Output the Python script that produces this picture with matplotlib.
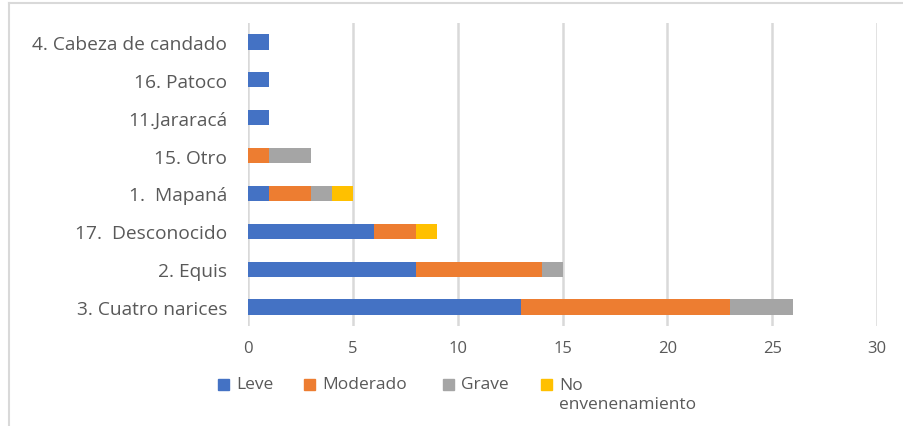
import numpy as np
import matplotlib
matplotlib.use("Agg")
import matplotlib.pyplot as plt
from matplotlib.lines import Line2D
from matplotlib.patches import Rectangle

plt.rcParams['font.family'] = ['Open Sans', 'DejaVu Sans']

# data, bottom category first (as drawn by Excel)
categorias = ["3. Cuatro narices", "2. Equis", "17.  Desconocido", "1.  Mapaná",
              "15. Otro", "11.Jararacá", "16. Patoco", "4. Cabeza de candado"]
leve = [13, 8, 6, 1, 0, 1, 1, 1]
moderado = [10, 6, 2, 2, 1, 0, 0, 0]
grave = [3, 1, 0, 1, 2, 0, 0, 0]
no_env = [0, 0, 1, 1, 0, 0, 0, 0]
series = ["Leve", "Moderado", "Grave", "No\nenvenenamiento"]
colores = ["#4472C4", "#ED7D31", "#A5A5A5", "#FFC000"]
xticks = [0, 5, 10, 15, 20, 25, 30]

W, H = 904, 427
gris = "#595959"
fig = plt.figure(figsize=(W / 100, H / 100), dpi=100)
ax = fig.add_axes([248 / W, 1 - 327 / H, (877 - 248) / W, (327 - 24) / H])

y = np.arange(len(categorias))
izq = np.zeros(len(categorias))
for vals, nombre, col in zip([leve, moderado, grave, no_env], series, colores):
    ax.barh(y, vals, left=izq, height=0.4, color=col, label=nombre, zorder=3)
    izq += np.array(vals)

ax.set_xlim(0, 30)
ax.set_ylim(-0.5, len(categorias) - 0.5)
ax.set_xticks(xticks)
ax.set_yticks(y)
ax.set_yticklabels(categorias, fontsize=13.8)
ax.grid(axis="x", color="#D9D9D9", linewidth=1.8, zorder=0)
for s in ax.spines.values():
    s.set_visible(False)
ax.tick_params(length=0, colors=gris)
ax.tick_params(axis="x", pad=10, labelsize=12)
ax.tick_params(axis="y", pad=15)

# legend drawn by hand: square + label, Excel style wrapping
leg_x = [218, 304, 443, 541]
for lx, nombre, col in zip(leg_x, series, colores):
    fig.add_artist(Rectangle((lx / W, 1 - 391 / H), 11 / W, 11 / H,
                             transform=fig.transFigure, color=col))
    n = nombre.count("\n")
    fig.text((lx + 18) / W, 1 - (385 + 10.5 * n) / H, nombre, color=gris,
             fontsize=12.5, va="center", ha="left", linespacing=1.2)

# chart area border
fig.add_artist(Line2D([9 / W, 9 / W], [0, 1 - 4 / H], color="#D9D9D9", lw=1.5))
fig.add_artist(Line2D([9 / W, 1], [1 - 4 / H, 1 - 4 / H], color="#D9D9D9", lw=1.5))

fig.savefig("out.png", dpi=100)
